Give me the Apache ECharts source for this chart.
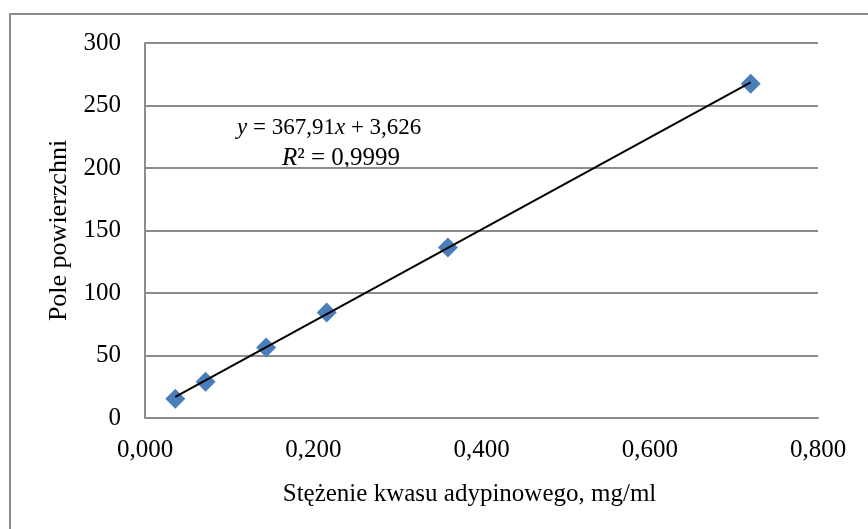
<!DOCTYPE html>
<html>
<head>
<meta charset="utf-8">
<script src="https://cdn.jsdelivr.net/npm/echarts@6/dist/echarts.min.js"></script>
<style>
  html, body { margin: 0; padding: 0; background: #fff; }
  #chart { width: 868px; height: 529px; }
</style>
</head>
<body>
<div id="chart"></div>
<script>
// stężenie (mg/ml) i pole powierzchni
const stezenie = [0.036, 0.072, 0.144, 0.216, 0.360, 0.720]
const pole = [15.5, 29, 56.5, 84.5, 136.5, 267.5]
// linia trendu z równania na wykresie
const slope = 367.91
const intercept = 3.626
const trendX = [stezenie[0], stezenie[stezenie.length - 1]]

const font = '"Liberation Serif", "Times New Roman", serif'
const gridColor = '#8c8c8c'

const chart = echarts.init(document.getElementById('chart'))
const option = {
  backgroundColor: '#fff',
  animation: false,
  textStyle: { fontFamily: font },
  grid: { left: 145, right: 50, top: 43, bottom: 111 },
  xAxis: {
    type: 'value',
    min: 0,
    max: 0.8,
    interval: 0.2,
    name: 'Stężenie kwasu adypinowego, mg/ml',
    nameLocation: 'middle',
    nameGap: 64,
    nameTextStyle: { fontFamily: font, fontSize: 25, color: '#000', padding: [0, 24, 0, 0] },
    axisLine: { lineStyle: { color: gridColor, width: 2 } },
    axisTick: { show: false },
    splitLine: { show: false },
    axisLabel: {
      margin: 20,
      fontFamily: font,
      fontSize: 25,
      color: '#000',
      formatter: v => v.toFixed(3).replace('.', ',')
    }
  },
  yAxis: {
    type: 'value',
    min: 0,
    max: 300,
    interval: 50,
    name: 'Pole powierzchni',
    nameLocation: 'middle',
    nameGap: 73,
    nameTextStyle: { fontFamily: font, fontSize: 26, color: '#000' },
    axisLine: { show: true, lineStyle: { color: gridColor, width: 2 } },
    axisTick: { show: false },
    splitLine: { lineStyle: { color: gridColor, width: 2 } },
    axisLabel: { margin: 24, fontFamily: font, fontSize: 25, color: '#000' }
  },
  series: [
    {
      type: 'scatter',
      symbol: 'diamond',
      symbolSize: 20,
      itemStyle: { color: '#4a7ebb', opacity: 1 },
      data: stezenie.map((x, i) => [x, pole[i]]),
      z: 2
    },
    {
      type: 'line',
      showSymbol: false,
      symbol: 'none',
      lineStyle: { color: '#000', width: 2 },
      data: trendX.map(x => [x, slope * x + intercept]),
      z: 3
    }
  ],
  graphic: [
    {
      type: 'rect',
      shape: { x: 10, y: 14, width: 900, height: 600 },
      style: { fill: 'none', stroke: gridColor, lineWidth: 2 },
      silent: true
    },
    {
      type: 'text',
      left: 237,
      top: 116,
      style: {
        text: '{i|y} = 367,91{i|x} + 3,626',
        font: '23px ' + font,
        fill: '#000',
        rich: { i: { fontStyle: 'italic', fontSize: 23, fontFamily: font } }
      }
    },
    {
      type: 'text',
      left: 282,
      top: 146,
      style: {
        text: '{i|R}² = 0,9999',
        font: '25px ' + font,
        fill: '#000',
        rich: { i: { fontStyle: 'italic', fontSize: 25, fontFamily: font } }
      }
    }
  ]
}
chart.setOption(option)
</script>
</body>
</html>
